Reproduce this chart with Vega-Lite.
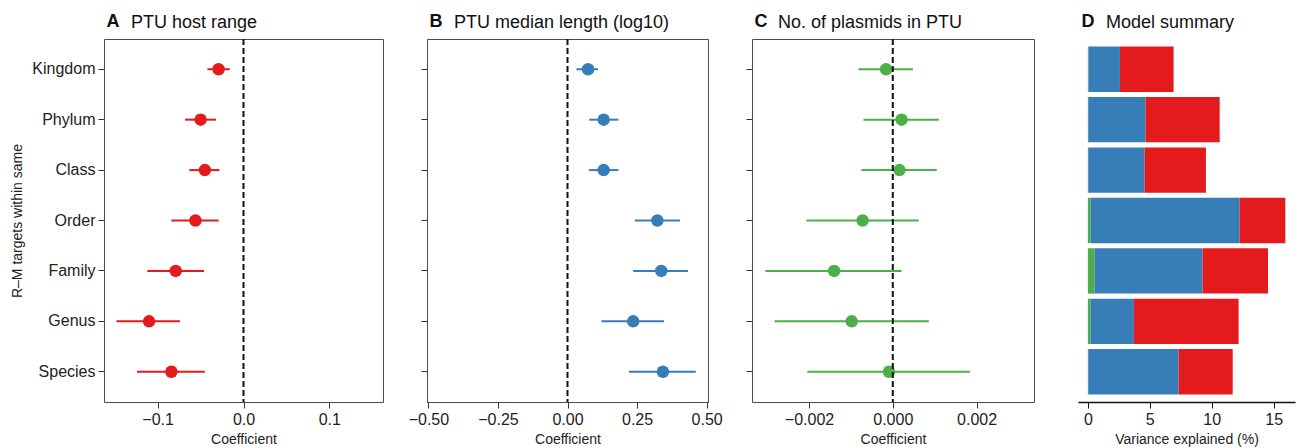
{
  "$schema": "https://vega.github.io/schema/vega-lite/v6.json",
  "autosize": {"type": "pad"},
  "padding": {"left": 10, "top": 11, "right": 2, "bottom": 2},
  "bounds": "flush",
  "spacing": 44,
  "config": {
    "font": "Liberation Sans",
    "view": {"stroke": "#4d4d4d", "strokeWidth": 1},
    "axis": {"grid": false, "domain": false, "labelFontSize": 16, "labelColor": "#222", "titleFontSize": 14, "titleFontWeight": "normal", "titleColor": "#222", "tickColor": "#333", "tickSize": 6, "tickWidth": 1, "labelPadding": 3, "titlePadding": 5},
    "title": {"fontSize": 18, "fontWeight": "normal", "anchor": "start", "frame": "group", "color": "#111", "baseline": "alphabetic", "offset": -20, "dx": 27}
  },
  "datasets": {
    "coef": [
      {"panel": "A", "level": "Kingdom", "est": -0.029, "lo": -0.042, "hi": -0.016},
      {"panel": "A", "level": "Phylum", "est": -0.050, "lo": -0.068, "hi": -0.032},
      {"panel": "A", "level": "Class", "est": -0.045, "lo": -0.063, "hi": -0.028},
      {"panel": "A", "level": "Order", "est": -0.056, "lo": -0.084, "hi": -0.029},
      {"panel": "A", "level": "Family", "est": -0.079, "lo": -0.112, "hi": -0.046},
      {"panel": "A", "level": "Genus", "est": -0.110, "lo": -0.148, "hi": -0.074},
      {"panel": "A", "level": "Species", "est": -0.084, "lo": -0.124, "hi": -0.045},
      {"panel": "B", "level": "Kingdom", "est": 0.074, "lo": 0.032, "hi": 0.110},
      {"panel": "B", "level": "Phylum", "est": 0.130, "lo": 0.078, "hi": 0.183},
      {"panel": "B", "level": "Class", "est": 0.130, "lo": 0.077, "hi": 0.183},
      {"panel": "B", "level": "Order", "est": 0.323, "lo": 0.242, "hi": 0.404},
      {"panel": "B", "level": "Family", "est": 0.337, "lo": 0.236, "hi": 0.433},
      {"panel": "B", "level": "Genus", "est": 0.236, "lo": 0.122, "hi": 0.347},
      {"panel": "B", "level": "Species", "est": 0.343, "lo": 0.221, "hi": 0.461},
      {"panel": "C", "level": "Kingdom", "est": -0.00016, "lo": -0.00082, "hi": 0.00048},
      {"panel": "C", "level": "Phylum", "est": 0.00021, "lo": -0.0007, "hi": 0.0011},
      {"panel": "C", "level": "Class", "est": 0.00016, "lo": -0.00075, "hi": 0.00105},
      {"panel": "C", "level": "Order", "est": -0.00072, "lo": -0.00206, "hi": 0.00062},
      {"panel": "C", "level": "Family", "est": -0.0014, "lo": -0.00304, "hi": 0.00021},
      {"panel": "C", "level": "Genus", "est": -0.00098, "lo": -0.00282, "hi": 0.00086},
      {"panel": "C", "level": "Species", "est": -0.00009, "lo": -0.00204, "hi": 0.00184}
    ],
    "variance": [
      {"level": "Kingdom", "component": "No. of plasmids", "value": 0.05},
      {"level": "Kingdom", "component": "Median length", "value": 2.54},
      {"level": "Kingdom", "component": "Host range", "value": 4.33},
      {"level": "Phylum", "component": "No. of plasmids", "value": 0.03},
      {"level": "Phylum", "component": "Median length", "value": 4.63},
      {"level": "Phylum", "component": "Host range", "value": 5.98},
      {"level": "Class", "component": "No. of plasmids", "value": 0.03},
      {"level": "Class", "component": "Median length", "value": 4.55},
      {"level": "Class", "component": "Host range", "value": 4.95},
      {"level": "Order", "component": "No. of plasmids", "value": 0.22},
      {"level": "Order", "component": "Median length", "value": 12.03},
      {"level": "Order", "component": "Host range", "value": 3.69},
      {"level": "Family", "component": "No. of plasmids", "value": 0.54},
      {"level": "Family", "component": "Median length", "value": 8.72},
      {"level": "Family", "component": "Host range", "value": 5.28},
      {"level": "Genus", "component": "No. of plasmids", "value": 0.22},
      {"level": "Genus", "component": "Median length", "value": 3.50},
      {"level": "Genus", "component": "Host range", "value": 8.45},
      {"level": "Species", "component": "No. of plasmids", "value": 0.03},
      {"level": "Species", "component": "Median length", "value": 7.30},
      {"level": "Species", "component": "Host range", "value": 4.36}
    ],
    "zero": [{"x": 0}],
    "none": []
  },
  "hconcat": [
    {
      "width": 279, "height": 363,
      "title": {"text": "PTU host range"},
      "resolve": {"axis": {"x": "independent"}},
      "layer": [
        {
          "data": {"name": "coef"},
          "transform": [{"filter": "datum.panel === 'A'"}],
          "mark": {"type": "rule", "strokeWidth": 2, "color": "#E41A1C"},
          "encoding": {
            "y": {"field": "level", "type": "nominal", "sort": ["Kingdom", "Phylum", "Class", "Order", "Family", "Genus", "Species"], "scale": {"type": "band", "paddingInner": 0, "paddingOuter": 0.1}, "axis": {"title": "R–M targets within same", "titlePadding": 7}},
            "x": {"field": "lo", "type": "quantitative", "scale": {"domain": [-0.1625, 0.1625], "nice": false, "zero": false}, "axis": {"title": "Coefficient", "values": [-0.1, 0, 0.1], "format": ".1f"}},
            "x2": {"field": "hi"}
          }
        },
        {
          "data": {"name": "coef"},
          "transform": [{"filter": "datum.panel === 'A'"}],
          "mark": {"type": "circle", "size": 155, "opacity": 1, "color": "#E41A1C"},
          "encoding": {
            "y": {"field": "level", "type": "nominal", "sort": ["Kingdom", "Phylum", "Class", "Order", "Family", "Genus", "Species"]},
            "x": {"field": "est", "type": "quantitative", "axis": null}
          }
        },
        {
          "data": {"name": "zero"},
          "mark": {"type": "rule", "strokeDash": [6, 3], "strokeWidth": 2, "color": "#111"},
          "encoding": {"x": {"field": "x", "type": "quantitative", "axis": {"orient": "top", "title": "A", "labels": false, "ticks": false, "domain": false, "titleFontSize": 18, "titleFontWeight": "bold", "titleColor": "#111", "titleAlign": "left", "titleBaseline": "alphabetic", "titleX": 2, "titlePadding": 13}}}
        }
      ]
    },
    {
      "width": 281, "height": 363,
      "title": {"text": "PTU median length (log10)"},
      "resolve": {"axis": {"x": "independent"}},
      "layer": [
        {
          "data": {"name": "coef"},
          "transform": [{"filter": "datum.panel === 'B'"}],
          "mark": {"type": "rule", "strokeWidth": 2, "color": "#377EB8"},
          "encoding": {
            "y": {"field": "level", "type": "nominal", "sort": ["Kingdom", "Phylum", "Class", "Order", "Family", "Genus", "Species"], "scale": {"type": "band", "paddingInner": 0, "paddingOuter": 0.1}, "axis": {"title": null, "labels": false}},
            "x": {"field": "lo", "type": "quantitative", "scale": {"domain": [-0.505, 0.505], "nice": false, "zero": false}, "axis": {"title": "Coefficient", "values": [-0.5, -0.25, 0, 0.25, 0.5], "format": ".2f"}},
            "x2": {"field": "hi"}
          }
        },
        {
          "data": {"name": "coef"},
          "transform": [{"filter": "datum.panel === 'B'"}],
          "mark": {"type": "circle", "size": 155, "opacity": 1, "color": "#377EB8"},
          "encoding": {
            "y": {"field": "level", "type": "nominal", "sort": ["Kingdom", "Phylum", "Class", "Order", "Family", "Genus", "Species"]},
            "x": {"field": "est", "type": "quantitative", "axis": null}
          }
        },
        {
          "data": {"name": "zero"},
          "mark": {"type": "rule", "strokeDash": [6, 3], "strokeWidth": 2, "color": "#111"},
          "encoding": {"x": {"field": "x", "type": "quantitative", "axis": {"orient": "top", "title": "B", "labels": false, "ticks": false, "domain": false, "titleFontSize": 18, "titleFontWeight": "bold", "titleColor": "#111", "titleAlign": "left", "titleBaseline": "alphabetic", "titleX": 2, "titlePadding": 13}}}
        }
      ]
    },
    {
      "width": 282, "height": 363,
      "title": {"text": "No. of plasmids in PTU", "dx": 26},
      "resolve": {"axis": {"x": "independent"}},
      "layer": [
        {
          "data": {"name": "coef"},
          "transform": [{"filter": "datum.panel === 'C'"}],
          "mark": {"type": "rule", "strokeWidth": 2, "color": "#4DAF4A"},
          "encoding": {
            "y": {"field": "level", "type": "nominal", "sort": ["Kingdom", "Phylum", "Class", "Order", "Family", "Genus", "Species"], "scale": {"type": "band", "paddingInner": 0, "paddingOuter": 0.1}, "axis": {"title": null, "labels": false}},
            "x": {"field": "lo", "type": "quantitative", "scale": {"domain": [-0.00336, 0.00337], "nice": false, "zero": false}, "axis": {"title": "Coefficient", "values": [-0.002, 0, 0.002], "format": ".3f"}},
            "x2": {"field": "hi"}
          }
        },
        {
          "data": {"name": "coef"},
          "transform": [{"filter": "datum.panel === 'C'"}],
          "mark": {"type": "circle", "size": 155, "opacity": 1, "color": "#4DAF4A"},
          "encoding": {
            "y": {"field": "level", "type": "nominal", "sort": ["Kingdom", "Phylum", "Class", "Order", "Family", "Genus", "Species"]},
            "x": {"field": "est", "type": "quantitative", "axis": null}
          }
        },
        {
          "data": {"name": "zero"},
          "mark": {"type": "rule", "strokeDash": [6, 3], "strokeWidth": 2, "color": "#111"},
          "encoding": {"x": {"field": "x", "type": "quantitative", "axis": {"orient": "top", "title": "C", "labels": false, "ticks": false, "domain": false, "titleFontSize": 18, "titleFontWeight": "bold", "titleColor": "#111", "titleAlign": "left", "titleBaseline": "alphabetic", "titleX": 2, "titlePadding": 13}}}
        }
      ]
    },
    {
      "width": 217, "height": 363,
      "title": {"text": "Model summary", "dx": 28},
      "view": {"stroke": null},
      "resolve": {"axis": {"x": "independent"}},
      "layer": [
        {
          "data": {"name": "variance"},
          "mark": {"type": "bar"},
          "encoding": {
            "y": {"field": "level", "type": "nominal", "sort": ["Kingdom", "Phylum", "Class", "Order", "Family", "Genus", "Species"], "scale": {"paddingInner": 0.1, "paddingOuter": 0.15}, "axis": null},
            "x": {"field": "value", "type": "quantitative", "stack": "zero", "scale": {"domain": [-0.796, 16.72], "nice": false, "zero": false}, "axis": {"title": "Variance explained (%)", "values": [0, 5, 10, 15], "format": "d", "domain": true, "domainColor": "#111", "domainWidth": 1.3, "tickColor": "#111"}},
            "color": {"field": "component", "type": "nominal", "scale": {"domain": ["No. of plasmids", "Median length", "Host range"], "range": ["#4DAF4A", "#377EB8", "#E41A1C"]}, "legend": null},
            "order": {"field": "component", "sort": "descending"}
          }
        },
        {
          "data": {"name": "none"},
          "mark": {"type": "rule"},
          "encoding": {"x": {"field": "x", "type": "quantitative", "axis": {"orient": "top", "title": "D", "labels": false, "ticks": false, "domain": false, "titleFontSize": 18, "titleFontWeight": "bold", "titleColor": "#111", "titleAlign": "left", "titleBaseline": "alphabetic", "titleX": 3, "titlePadding": 13}}}
        }
      ]
    }
  ]
}
